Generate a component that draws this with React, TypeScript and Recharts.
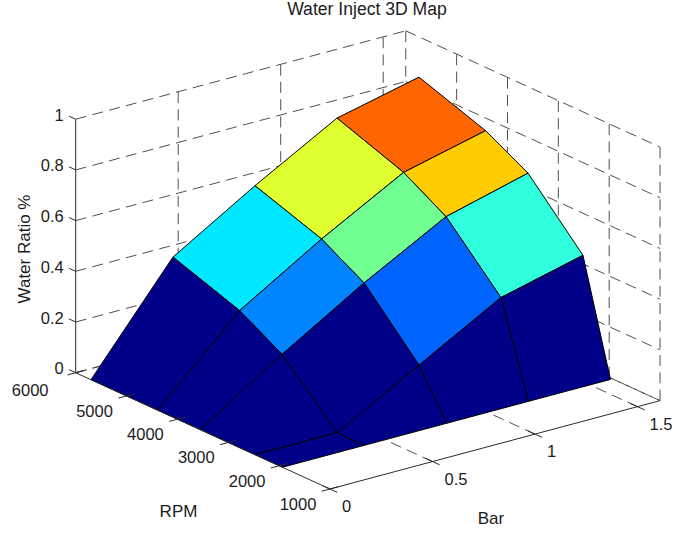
import React from 'react';
import { ScatterChart, Scatter, XAxis, YAxis } from 'recharts';

const BAR = [0, 0.4, 0.8, 1.2, 1.6];
const RPM = [1935, 2475, 3555, 4390, 5700];
const RATIO_RPM0 = [0, 0, 0, 0, 0];
const RATIO_RPM1 = [0, 0, 0.18, 0.36, 0.44];
const RATIO_RPM2 = [0, 0.21, 0.405, 0.58, 0.665];
const RATIO_RPM3 = [0, 0.306, 0.502, 0.678, 0.756];
const RATIO_RPM4 = [0, 0.397, 0.592, 0.772, 0.847];
const RATIO = [RATIO_RPM0, RATIO_RPM1, RATIO_RPM2, RATIO_RPM3, RATIO_RPM4];

const DARK = '#000088';
const FILL_ROW0 = [DARK, DARK, DARK, DARK];
const FILL_ROW1 = [DARK, DARK, '#0065FF', '#30FFDD'];
const FILL_ROW2 = [DARK, '#0085FF', '#70FF90', '#FFCC00'];
const FILL_ROW3 = [DARK, '#00E8FF', '#E0FF30', '#FF6600'];
const FILLS = [FILL_ROW0, FILL_ROW1, FILL_ROW2, FILL_ROW3];

const BAR_TICKS = [0, 0.5, 1, 1.5];
const RPM_TICKS = [1000, 2000, 3000, 4000, 5000, 6000];
const RATIO_TICKS = [0, 0.2, 0.4, 0.6, 0.8, 1];
const BAR_MAX = 1.61;
const RPM_MIN = 1000;
const RPM_MAX = 6000;

// Orthographic view of the MATLAB axes box
const project = (bar: number, rpm: number, ratio: number) => ({
  x: 330 + 205 * bar - (50.86 * (rpm - 1000)) / 1000,
  y: 489 - 54.9 * bar - (23.26 * (rpm - 1000)) / 1000 - 253.5 * ratio,
});

type P3 = [number, number, number];
const FONT = '"Liberation Sans", Arial, sans-serif';
const noDot = () => <g />;
const GRID = { stroke: '#3c3c3c', strokeWidth: 0.9, strokeDasharray: '11 6.3' };
const AXIS = { stroke: '#2c2c2c', strokeWidth: 1 };

const dashed: P3[][] = [];
for (const b of BAR_TICKS.slice(1)) {
  dashed.push([[b, RPM_MIN, 0], [b, RPM_MAX, 0]]);
  dashed.push([[b, RPM_MAX, 0], [b, RPM_MAX, 1]]);
}
for (const r of RPM_TICKS.slice(1)) {
  dashed.push([[0, r, 0], [BAR_MAX, r, 0]]);
}
for (const r of RPM_TICKS) {
  dashed.push([[BAR_MAX, r, 0], [BAR_MAX, r, 1]]);
}
for (const z of RATIO_TICKS) {
  dashed.push([[0, RPM_MAX, z], [BAR_MAX, RPM_MAX, z]]);
  dashed.push([[BAR_MAX, RPM_MAX, z], [BAR_MAX, RPM_MIN, z]]);
}
dashed.push([[BAR_MAX, RPM_MIN, 0], [BAR_MAX, RPM_MAX, 0]]);

const solid: P3[][] = [
  [[0, RPM_MAX, 0], [0, RPM_MAX, 1]],
  [[0, RPM_MAX, 0], [0, RPM_MIN, 0]],
  [[0, RPM_MIN, 0], [BAR_MAX, RPM_MIN, 0]],
];
for (const b of BAR_TICKS) solid.push([[b, RPM_MIN - 140, 0], [b, RPM_MIN + 140, 0]]);
for (const r of RPM_TICKS) solid.push([[-0.04, r, 0], [0.04, r, 0]]);
for (const z of RATIO_TICKS) solid.push([[0, RPM_MAX, z], [0, RPM_MAX + 130, z]]);

const cells: { pts: { x: number; y: number }[]; fill: string; id: string }[] = [];
for (let j = RPM.length - 2; j >= 0; j--) {
  for (let i = BAR.length - 2; i >= 0; i--) {
    cells.push({
      id: `c${j}-${i}`,
      fill: FILLS[j][i],
      pts: [
        project(BAR[i], RPM[j], RATIO[j][i]),
        project(BAR[i + 1], RPM[j], RATIO[j][i + 1]),
        project(BAR[i + 1], RPM[j + 1], RATIO[j + 1][i + 1]),
        project(BAR[i], RPM[j + 1], RATIO[j + 1][i]),
      ],
    });
  }
}

type Lab = { x: number; y: number; text: string; anchor: string; rotate?: number; size?: number };
const labels: Lab[] = [
  { x: 367, y: 9, text: 'Water Inject 3D Map', anchor: 'middle', size: 17.6 },
  { x: 24.5, y: 249, text: 'Water Ratio %', anchor: 'middle', rotate: -90, size: 17 },
  { x: 178.5, y: 511.5, text: 'RPM', anchor: 'middle', size: 17 },
  { x: 491, y: 518, text: 'Bar', anchor: 'middle', size: 17 },
];
for (const z of RATIO_TICKS) {
  const p = project(0, RPM_MAX, z);
  labels.push({ x: p.x - 12, y: p.y - 4.5, text: String(z), anchor: 'end' });
}
for (const r of RPM_TICKS) {
  const p = project(0, r, 0);
  const dx = r === RPM_MAX ? -45.5 : -32;
  labels.push({ x: p.x + dx, y: p.y + (r === RPM_MAX ? 17 : 15), text: String(r), anchor: 'middle' });
}
for (const b of BAR_TICKS) {
  const p = project(b, RPM_MIN, 0);
  labels.push({ x: p.x + 12, y: p.y + 17, text: String(b), anchor: 'start' });
}

const polygon = (fill: string) => (props: any) => (
  <polygon
    points={props.points.map((q: any) => `${q.x},${q.y}`).join(' ')}
    fill={fill}
    stroke="#000000"
    strokeWidth={1}
    strokeLinejoin="round"
  />
);

const textShape = (props: any) => {
  const d: Lab = props.payload;
  return (
    <text
      x={props.cx}
      y={props.cy}
      textAnchor={d.anchor as any}
      dominantBaseline="central"
      fontFamily={FONT}
      fontSize={d.size ?? 16.5}
      fill="#1c1c1c"
      transform={d.rotate ? `rotate(${d.rotate} ${props.cx} ${props.cy})` : undefined}
    >
      {d.text}
    </text>
  );
};

export default function App() {
  return (
    <div style={{ position: 'absolute', left: 0, top: 0, width: 700, height: 533, background: '#fff' }}>
      <ScatterChart width={700} height={533} margin={{ top: 0, right: 0, bottom: 0, left: 0 }}>
        <XAxis type="number" dataKey="x" domain={[0, 700]} hide />
        <YAxis type="number" dataKey="y" domain={[0, 533]} reversed hide />
        {dashed.map((seg, k) => (
          <Scatter
            key={`g${k}`}
            data={seg.map((s) => project(s[0], s[1], s[2]))}
            shape={noDot}
            line={GRID}
            isAnimationActive={false}
          />
        ))}
        {cells.map((c) => (
          <Scatter
            key={c.id}
            data={c.pts}
            shape={noDot}
            line={polygon(c.fill)}
            isAnimationActive={false}
          />
        ))}
        {solid.map((seg, k) => (
          <Scatter
            key={`a${k}`}
            data={seg.map((s) => project(s[0], s[1], s[2]))}
            shape={noDot}
            line={AXIS}
            isAnimationActive={false}
          />
        ))}
        <Scatter data={labels} shape={textShape} isAnimationActive={false} />
      </ScatterChart>
    </div>
  );
}
